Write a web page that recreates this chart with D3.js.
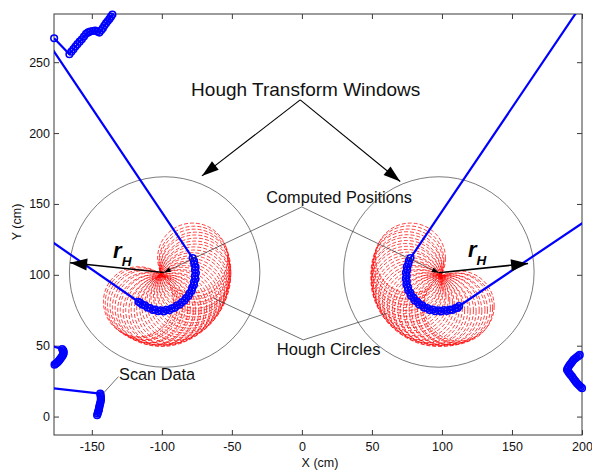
<!DOCTYPE html>
<html>
<head>
<meta charset="utf-8">
<script src="https://cdn.jsdelivr.net/npm/d3@7"></script>
<style>
  html, body { margin: 0; padding: 0; background: #fff; }
  svg { display: block; font-family: "Liberation Sans", Arial, sans-serif; }
</style>
</head>
<body>
<svg id="chart" width="592" height="471"></svg>
<script>
// ---- axis ticks ----
const xTicks = [-150, -100, -50, 0, 50, 100, 150, 200];
const yTicks = [0, 50, 100, 150, 200, 250];

// ---- laser scan data (cm), one array per connected run of the scan ----
const scanTopLeft = [
  [-176.9, 266.9], [-166.0, 255.6], [-164.6, 257.4], [-163.1, 259.2], [-161.7, 261.0],
  [-160.3, 262.7], [-158.7, 264.5], [-157.1, 266.2], [-155.6, 268.1], [-154.1, 270.0],
  [-152.6, 271.0], [-151.2, 271.6], [-149.4, 272.0], [-147.6, 272.3], [-146.1, 271.6],
  [-144.6, 270.9], [-143.3, 272.5], [-142.1, 274.0], [-141.0, 275.8], [-139.8, 277.5],
  [-138.6, 279.0], [-137.4, 280.5], [-136.3, 282.1], [-135.3, 283.6]
];
// left object: the run enters from beyond the left edge, follows the arc, and leaves again
const scanLeftArc = [
  [-185.0, 269.3],
  [-78.0, 111.8], [-77.0, 109.6], [-76.8, 107.5], [-75.9, 105.4], [-76.3, 103.4],
  [-75.7, 101.2], [-76.4, 99.1], [-76.0, 97.0], [-77.0, 95.0], [-77.1, 92.8],
  [-78.3, 90.9], [-78.7, 88.8], [-80.2, 87.0], [-81.0, 85.0], [-82.7, 83.6],
  [-83.8, 81.8], [-85.7, 80.6], [-87.2, 79.0], [-89.3, 78.3], [-90.8, 76.7],
  [-93.0, 76.3], [-94.7, 75.0], [-96.9, 75.3], [-98.6, 74.2], [-100.8, 75.0],
  [-102.6, 74.3], [-104.7, 75.4], [-106.5, 75.2], [-108.4, 76.6], [-110.3, 76.9],
  [-112.0, 78.4], [-113.8, 78.9], [-115.4, 80.2], [-116.7, 81.0],
  [-185.0, 127.8]
];
// right object
const scanRightArc = [
  [203.0, 295.4],
  [77.5, 111.8], [76.4, 109.8], [76.0, 107.6], [74.9, 105.7], [75.2, 103.6],
  [74.3, 101.6], [74.8, 99.5], [74.2, 97.4], [74.9, 95.4], [74.6, 93.2],
  [75.7, 91.3], [75.9, 89.1], [77.3, 87.4], [77.9, 85.3], [79.6, 83.9],
  [80.6, 81.9], [82.5, 80.9], [83.8, 79.1], [86.0, 78.4], [87.4, 76.8],
  [89.6, 76.6], [91.2, 75.1], [93.5, 75.5], [95.2, 74.3], [97.5, 75.0],
  [99.4, 74.2], [101.6, 75.1], [103.5, 74.5], [105.7, 75.4], [107.5, 75.2],
  [109.6, 76.5], [111.2, 76.6], [112.3, 78.0],
  [208.0, 141.6]
];
const scanLowerLeftA = [
  [-185.0, 51.6], [-171.2, 47.6], [-170.5, 46.8], [-170.2, 46.0], [-170.1, 45.1],
  [-170.3, 44.2], [-170.7, 43.3], [-171.2, 42.5], [-171.8, 41.6], [-172.4, 40.8],
  [-173.0, 40.0], [-173.6, 39.2], [-174.3, 38.5], [-175.0, 37.8], [-175.8, 37.2],
  [-176.6, 36.6]
];
const scanLowerLeftB = [
  [-185.0, 20.8], [-144.0, 16.2], [-143.7, 15.1], [-143.6, 14.0], [-143.5, 12.9],
  [-143.5, 11.8], [-143.7, 10.6], [-144.0, 9.4], [-144.3, 8.2], [-144.6, 7.0],
  [-144.8, 6.0], [-145.0, 5.0], [-145.2, 4.1], [-145.5, 3.2], [-145.8, 2.1],
  [-146.2, 1.0]
];
const scanRight = [
  [198.4, 43.5], [197.3, 42.6], [196.2, 41.8], [195.1, 40.9], [194.0, 40.0],
  [193.1, 38.8], [192.2, 37.6], [191.3, 36.5], [190.5, 35.3], [189.8, 34.1],
  [189.3, 33.0], [190.1, 31.8], [190.9, 30.6], [191.9, 29.4], [192.9, 28.2],
  [193.7, 27.0], [194.6, 25.8], [195.5, 24.6], [196.4, 23.5], [197.3, 22.6],
  [198.2, 21.7], [199.1, 20.8], [200.0, 20.0]
];
const scanRuns = [scanTopLeft, scanLeftArc, scanRightArc, scanLowerLeftA, scanLowerLeftB, scanRight];

// ---- Hough transform ----
const windowCenters = [[-98.0, 102.0], [97.8, 102.0]];
const windowRadius = 68;            // cm
const houghRadius = 25;             // cm, object radius voted with
const computedPositions = [[-98.6, 101.6], [97.8, 101.4]];
const rHTips = [[-165.5, 108.6], [161.5, 108.0]];

// ---- layout ----
const W = 592, H = 471;
const plot = { left: 54, right: 582, top: 14, bottom: 435 };
const x = d3.scaleLinear().domain([-177, 200]).range([plot.left, plot.right]);
const y = d3.scaleLinear().domain([-13, 284]).range([plot.bottom, plot.top]);

const svg = d3.select("#chart");
svg.append("rect").attr("width", W).attr("height", H).attr("fill", "#fff");

svg.append("defs").append("clipPath").attr("id", "plotClip")
  .append("rect")
  .attr("x", plot.left).attr("y", plot.top)
  .attr("width", plot.right - plot.left).attr("height", plot.bottom - plot.top);

// axes with inward ticks on all four sides
const axisColor = "#3a3a3a";
const plain = d => String(d);   // hyphen-minus labels
function styleAxis(g) {
  g.select(".domain").remove();
  g.selectAll(".tick line").attr("stroke", axisColor).attr("stroke-width", 1);
  g.selectAll(".tick text").attr("fill", "#111").attr("font-size", 12.5)
    .attr("font-family", '"Liberation Sans", Arial, sans-serif');
}
svg.append("g").attr("transform", `translate(0,${plot.bottom})`)
  .call(d3.axisBottom(x).tickValues(xTicks).tickFormat(plain).tickSize(-5).tickPadding(7)).call(styleAxis);
svg.append("g").attr("transform", `translate(0,${plot.top})`)
  .call(d3.axisTop(x).tickValues(xTicks).tickSize(-5).tickFormat("")).call(styleAxis);
svg.append("g").attr("transform", `translate(${plot.left},0)`)
  .call(d3.axisLeft(y).tickValues(yTicks).tickFormat(plain).tickSize(-5).tickPadding(4)).call(styleAxis);
svg.append("g").attr("transform", `translate(${plot.right},0)`)
  .call(d3.axisRight(y).tickValues(yTicks).tickSize(-5).tickFormat("")).call(styleAxis);

svg.append("rect")
  .attr("x", plot.left).attr("y", plot.top)
  .attr("width", plot.right - plot.left).attr("height", plot.bottom - plot.top)
  .attr("fill", "none").attr("stroke", axisColor).attr("stroke-width", 1);

svg.append("text").attr("x", 320).attr("y", 467).attr("text-anchor", "middle")
  .attr("font-size", 12.5).attr("fill", "#111").text("X (cm)");
svg.append("text").attr("transform", "translate(21,222) rotate(-90)")
  .attr("text-anchor", "middle").attr("font-size", 12.5).attr("fill", "#111").text("Y (cm)");

const layer = svg.append("g").attr("clip-path", "url(#plotClip)");
const px = d => x(d[0]), py = d => y(d[1]);

// Hough transform windows
layer.selectAll("circle.window").data(windowCenters).join("circle")
  .attr("class", "window")
  .attr("cx", px).attr("cy", py)
  .attr("r", x(windowRadius) - x(0))
  .attr("fill", "none").attr("stroke", "#5a5a5a").attr("stroke-width", 0.8);

// Hough circles: one vote circle around every scan point inside a window
const inWindow = p => windowCenters.some(c => Math.hypot(p[0] - c[0], p[1] - c[1]) <= windowRadius);
const votePoints = scanRuns.flat().filter(inWindow);
layer.selectAll("circle.hough").data(votePoints).join("circle")
  .attr("class", "hough")
  .attr("cx", px).attr("cy", py)
  .attr("r", x(houghRadius) - x(0))
  .attr("fill", "none").attr("stroke", "#ff0000").attr("stroke-width", 0.75)
  .attr("stroke-dasharray", "4,2");

// scan data: lines clipped to the axes, open circle markers at points inside
const line = d3.line().x(px).y(py);
const inAxes = p => p[0] >= -177.5 && p[0] <= 200.5 && p[1] >= -13 && p[1] <= 284.5;
scanRuns.forEach(run => {
  layer.append("path").attr("d", line(run))
    .attr("fill", "none").attr("stroke", "#0000ff").attr("stroke-width", 2.2)
    .attr("stroke-linejoin", "round");
});
svg.append("g").selectAll("circle").data(scanRuns.flat().filter(inAxes)).join("circle")
  .attr("cx", px).attr("cy", py).attr("r", 3.3)
  .attr("fill", "none").attr("stroke", "#0000ff").attr("stroke-width", 1.6);

// ---- annotations ----
const ann = svg.append("g");
function arrowHead(from, to, len, half) {
  const [x0, y0] = [px(from), py(from)], [x1, y1] = [px(to), py(to)];
  const d = Math.hypot(x1 - x0, y1 - y0), ux = (x1 - x0) / d, uy = (y1 - y0) / d;
  const bx = x1 - ux * len, by = y1 - uy * len;
  ann.append("path")
    .attr("d", `M${x1},${y1}L${bx - uy * half},${by + ux * half}L${bx + uy * half},${by - ux * half}Z`)
    .attr("fill", "#000");
}
function segment(a, b, w, color) {
  ann.append("line").attr("x1", px(a)).attr("y1", py(a)).attr("x2", px(b)).attr("y2", py(b))
    .attr("stroke", color).attr("stroke-width", w);
}

// window arrows
const htwApex = [-1.2, 223.4];
const htwTips = [[-71.4, 169.8], [70.2, 165.8]];
htwTips.forEach(t => { segment(htwApex, t, 1.1, "#000"); arrowHead(htwApex, t, 17, 5.5); });
ann.append("text").attr("x", x(2.7)).attr("y", y(226.1)).attr("text-anchor", "middle")
  .attr("font-size", 19).attr("fill", "#111").text("Hough Transform Windows");

// computed positions
const cpApex = [-0.1, 147.9];
computedPositions.forEach(c => { segment(cpApex, c, 0.7, "#333"); arrowHead(cpApex, c, 7, 2.5); });
ann.append("text").attr("x", x(26.6)).attr("y", y(150.4)).attr("text-anchor", "middle")
  .attr("font-size", 16.3).attr("fill", "#111").text("Computed Positions");

// hough circles
const hcApex = [1.0, 54.1];
[[-63.1, 83.5], [60.7, 72.9]].forEach(e => segment(hcApex, e, 0.7, "#333"));
ann.append("text").attr("x", x(19.1)).attr("y", y(43.5)).attr("text-anchor", "middle")
  .attr("font-size", 16.5).attr("fill", "#111").text("Hough Circles");

// scan data
segment([-131.0, 28.2], [-141.7, 16.5], 0.7, "#333");
ann.append("text").attr("x", x(-103.4)).attr("y", y(25.9)).attr("text-anchor", "middle")
  .attr("font-size", 16.3).attr("fill", "#111").text("Scan Data");

// r_H radius arrows
computedPositions.forEach((c, i) => {
  segment(c, rHTips[i], 1.5, "#000");
  arrowHead(c, rHTips[i], 17, 6);
});
[[-134.8, 111.9], [118.6, 112.7]].forEach(p => {
  const t = ann.append("text").attr("x", x(p[0])).attr("y", y(p[1])).attr("fill", "#000")
    .attr("font-family", '"Liberation Sans", Arial, sans-serif');
  t.append("tspan").attr("font-size", 22).attr("font-weight", "bold").attr("font-style", "italic").text("r");
  t.append("tspan").attr("font-size", 13.5).attr("font-weight", "bold").attr("font-style", "italic")
    .attr("dy", 8).text("H");
});
</script>
</body>
</html>
